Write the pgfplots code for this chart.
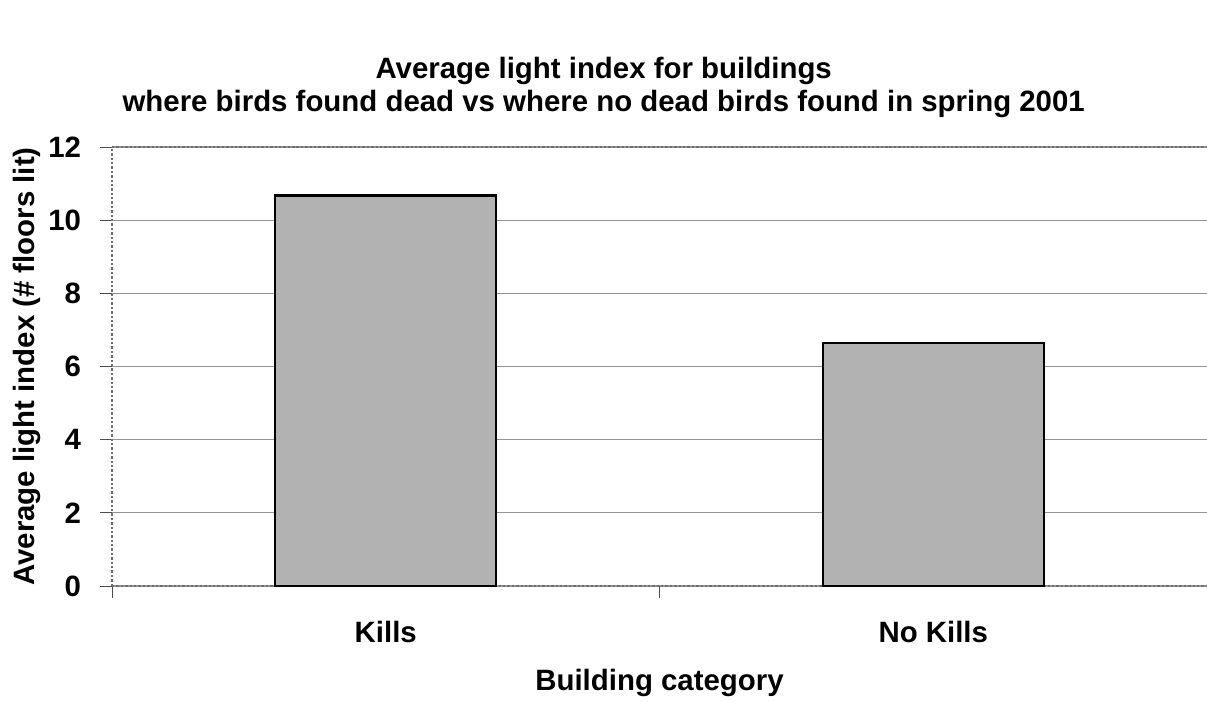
\documentclass[border=0pt]{standalone}
\usepackage{pgfplots}
\pgfplotsset{compat=1.18}
\usepackage{fontspec}
\setmainfont{Liberation Sans}
\definecolor{barfill}{RGB}{178,178,178}
\definecolor{axisgray}{RGB}{110,110,110}
\newcommand{\chartfont}{\fontsize{14.7bp}{16.5bp}\selectfont\bfseries}
\begin{document}
\begin{tikzpicture}
\begin{axis}[
    scale only axis,
    width=547.5bp, height=219.5bp,
    xmin=0, xmax=2, ymin=0, ymax=12,
    axis x line*=bottom, axis y line*=left,
    axis line style={axisgray, densely dotted, line width=1.2bp},
    tick align=outside,
    major tick length=6bp,
    tick style={black!70, line width=0.5bp},
    ytick={0,2,...,12},
    xtick={0,1,2}, xticklabels={},
    extra x ticks={0.5,1.5},
    extra x tick labels={Kills,No Kills},
    extra x tick style={major tick length=0pt, grid=none},
    ymajorgrids,
    grid style={gray!85, line width=0.6bp},
    ticklabel style={font=\chartfont},
    /pgf/number format/assume math mode=true,
    yticklabel style={xshift=-6bp},
    xticklabel style={yshift=-14bp},
    xlabel={Building category},
    ylabel={Average light index (\# floors lit)},
    label style={font=\chartfont},
    xlabel style={at={(rel axis cs:0.5,-0.221)}, anchor=center},
    ylabel style={at={(rel axis cs:-0.078,0.5)}, anchor=center},
    ybar, bar width=110.5bp,
    clip=false,
]
\addplot[draw=black, line width=1.2bp, fill=barfill] coordinates {
    (0.5,10.67) (1.5,6.65)
};
\draw[axisgray, densely dotted, line width=1.2bp] (rel axis cs:0,1) -- (rel axis cs:1,1);
\node[font=\chartfont, align=center, anchor=center] at (rel axis cs:0.449,1.136)
    {Average light index for buildings\\where birds found dead vs where no dead birds found in spring 2001};
\coordinate (bl) at (rel axis cs:-0.1023,-0.2642);
\coordinate (tr) at (rel axis cs:1,1.3349);
\end{axis}
\pgfresetboundingbox
\path[use as bounding box] (bl) rectangle (tr);
\end{tikzpicture}
\end{document}
